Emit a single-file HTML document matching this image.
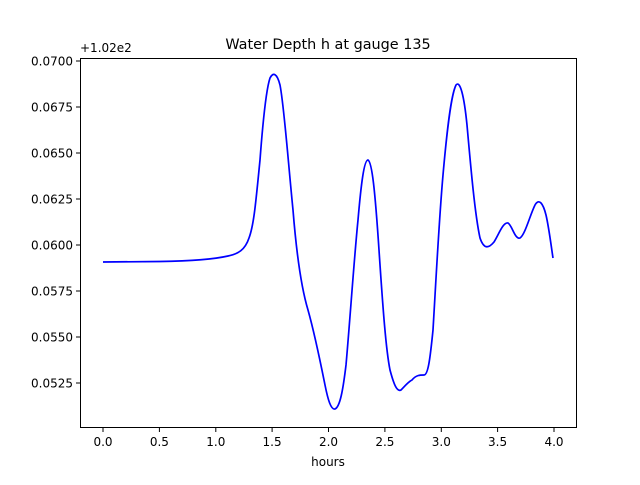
<!DOCTYPE html>
<html><head><style>body{margin:0;background:#fff}svg{font-family:"DejaVu Sans","Liberation Sans",sans-serif}</style></head>
<body>
<svg width="640" height="480" viewBox="0 0 640 480" xmlns="http://www.w3.org/2000/svg">
<rect width="640" height="480" fill="#fff"/>
<text x="328" y="49" font-size="14.4" text-anchor="middle">Water Depth h at gauge 135</text>
<text x="80" y="52" font-size="12">+1.02e2</text>
<path d="M103,262 L160,261.5 C190,261 215,259 228,256 C238,254 245,250 249,238 C254,225 256,200 260,160 C263,120 266,90 270,78 C273,72 277,73 280,85 C284,105 288,160 293,210 C297,260 302,290 308,310 C315,335 320,360 325,385 C328,400 331,410 335,409 C340,407 343,390 346,365 C350,320 354,260 358,220 C361,185 364,160 368,160 C372,162 375,190 379,250 C383,310 386,350 390,370 C394,385 397,392 401,390 C405,386 408,382 412,380 C416,375 420,375 424,375 C428,375 430,360 433,330 C436,280 439,220 443,175 C447,130 451,95 456,85 C460,80 464,95 467,125 C471,170 475,215 480,238 C484,250 489,248 494,242 C499,234 503,222 508,223 C512,225 515,240 520,238 C525,235 530,215 535,205 C539,198 543,203 546,215 C549,228 551,245 553,258" fill="none" stroke="#0000ff" stroke-width="1.7"/>
<rect x="80.5" y="58.5" width="496" height="369" fill="none" stroke="#000" stroke-width="1"/>
<g font-size="12" text-anchor="middle">
<g stroke="#000"><line x1="103" y1="428" x2="103" y2="432"/><line x1="159.4" y1="428" x2="159.4" y2="432"/><line x1="215.8" y1="428" x2="215.8" y2="432"/><line x1="272.1" y1="428" x2="272.1" y2="432"/><line x1="328.5" y1="428" x2="328.5" y2="432"/><line x1="384.9" y1="428" x2="384.9" y2="432"/><line x1="441.3" y1="428" x2="441.3" y2="432"/><line x1="497.6" y1="428" x2="497.6" y2="432"/><line x1="554" y1="428" x2="554" y2="432"/></g>
<text x="103" y="446">0.0</text><text x="159.4" y="446">0.5</text><text x="215.8" y="446">1.0</text><text x="272.1" y="446">1.5</text><text x="328.5" y="446">2.0</text><text x="384.9" y="446">2.5</text><text x="441.3" y="446">3.0</text><text x="497.6" y="446">3.5</text><text x="554" y="446">4.0</text>
<text x="328" y="466">hours</text>
</g>
<g font-size="12" text-anchor="end">
<g stroke="#000"><line x1="76" y1="61" x2="80" y2="61"/><line x1="76" y1="107" x2="80" y2="107"/><line x1="76" y1="153" x2="80" y2="153"/><line x1="76" y1="199" x2="80" y2="199"/><line x1="76" y1="245" x2="80" y2="245"/><line x1="76" y1="291" x2="80" y2="291"/><line x1="76" y1="337" x2="80" y2="337"/><line x1="76" y1="383" x2="80" y2="383"/></g>
<text x="73" y="65.5">0.0700</text><text x="73" y="111.5">0.0675</text><text x="73" y="157.5">0.0650</text><text x="73" y="203.5">0.0625</text><text x="73" y="249.5">0.0600</text><text x="73" y="295.5">0.0575</text><text x="73" y="341.5">0.0550</text><text x="73" y="387.5">0.0525</text>
</g>
</svg>
</body></html>
